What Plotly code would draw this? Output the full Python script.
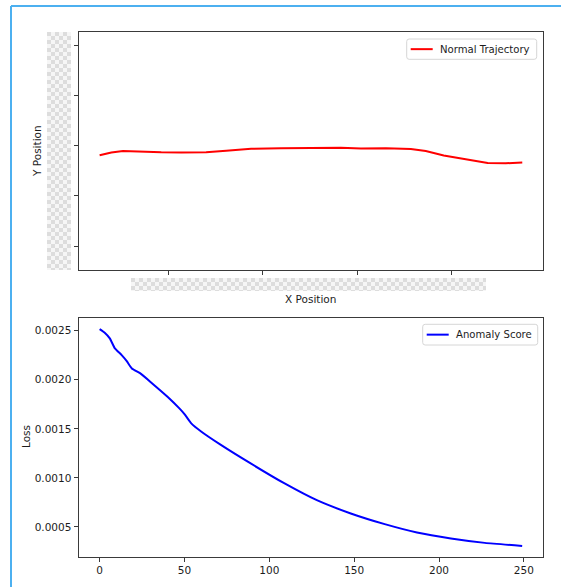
import base64
import plotly.graph_objects as go

W, H = 561, 587

# Trajectory (top panel)
traj_x = [1.274, 1.398, 1.521, 1.715, 1.926, 2.137, 2.401, 2.613, 2.877, 3.194,
          3.510, 3.827, 4.039, 4.303, 4.567, 4.725, 4.915, 5.148, 5.380, 5.570, 5.746]
traj_y = [-0.191, -0.135, -0.105, -0.121, -0.131, -0.135, -0.131, -0.101, -0.062, -0.052,
          -0.046, -0.042, -0.056, -0.050, -0.066, -0.105, -0.195, -0.275, -0.344, -0.350, -0.334]
traj_xticks = [2, 3, 4, 5]
traj_yticks = [-2, -1, 0, 1, 2]

# Anomaly score per step (bottom panel)
score_step = [0, 3, 6, 9, 13, 16, 19, 24, 31, 40, 47, 50, 54, 60, 71, 89,
              109, 128, 148, 168, 187, 207, 227, 249]
score_loss = [0.002517, 0.00248, 0.002422, 0.00232, 0.002252, 0.00219, 0.002116, 0.002065,
              0.001963, 0.001827, 0.001708, 0.00165, 0.001555, 0.00147, 0.001341, 0.001147,
              0.000943, 0.000772, 0.000637, 0.000528, 0.000443, 0.000382, 0.000337, 0.000306]
loss_ticks = [0.0005, 0.0010, 0.0015, 0.0020, 0.0025]
step_ticks = [0, 50, 100, 150, 200, 250]

series_names = ["Normal Trajectory", "Anomaly Score"]
series_colors = ["#ff0000", "#0000ff"]


def px_x(p):
    return p / W


def px_y(p):
    return 1 - p / H


FONT = "DejaVu Sans, sans-serif"
FS = 10.5
LEG_FS = 10.1
SPINE = "#3a3a3a"
TXT = "#1c1c1c"

fig = go.Figure()
fig.add_trace(go.Scatter(x=traj_x, y=traj_y, mode="lines", name=series_names[0],
                         line=dict(color=series_colors[0], width=2), xaxis="x", yaxis="y"))
fig.add_trace(go.Scatter(x=score_step, y=score_loss, mode="lines", name=series_names[1],
                         line=dict(color=series_colors[1], width=2, shape="spline", smoothing=0.5),
                         xaxis="x2", yaxis="y2"))

axis_common = dict(showgrid=False, zeroline=False, showline=True, linecolor=SPINE,
                   linewidth=1, mirror=True, ticks="outside", ticklen=4, tickwidth=1,
                   tickcolor=SPINE, tickfont=dict(family=FONT, size=FS, color=TXT))

xdom = [px_x(78.5), px_x(543.3)]

fig.update_layout(
    width=W, height=H,
    margin=dict(l=0, r=0, t=0, b=0),
    paper_bgcolor="white", plot_bgcolor="white",
    font=dict(family=FONT, size=FS, color=TXT),
    showlegend=False,
    xaxis=dict(axis_common, domain=xdom, anchor="y", range=[1.0505, 5.9685],
               tickvals=traj_xticks, showticklabels=False),
    yaxis=dict(axis_common, domain=[px_y(270), px_y(32.3)], anchor="x",
               range=[-2.474, 2.257], tickvals=traj_yticks, showticklabels=False),
    xaxis2=dict(axis_common, domain=xdom, anchor="y2", range=[-12.45, 261.45],
                tickvals=step_ticks),
    yaxis2=dict(axis_common, domain=[px_y(556.7), px_y(318.2)], anchor="x2",
                range=[0.000196, 0.002628], tickvals=loss_ticks, tickformat=".4f"),
)

# Axis titles
for text, x, y, ang in [("Y Position", 37, 151, -90), ("X Position", 310.8, 299, 0),
                        ("Loss", 26, 437, -90)]:
    fig.add_annotation(text=text, x=px_x(x), y=px_y(y), xref="paper", yref="paper",
                       xanchor="center", yanchor="middle", textangle=ang, showarrow=False,
                       font=dict(family=FONT, size=FS, color=TXT))


def rounded_box(x0, y0, x1, y1, r=2.5):
    """Rounded rectangle path in paper coordinates from pixel corners."""
    X = lambda p: px_x(p)
    Y = lambda p: px_y(p)
    return (f"M{X(x0 + r)},{Y(y0)} L{X(x1 - r)},{Y(y0)} Q{X(x1)},{Y(y0)} {X(x1)},{Y(y0 + r)} "
            f"L{X(x1)},{Y(y1 - r)} Q{X(x1)},{Y(y1)} {X(x1 - r)},{Y(y1)} "
            f"L{X(x0 + r)},{Y(y1)} Q{X(x0)},{Y(y1)} {X(x0)},{Y(y1 - r)} "
            f"L{X(x0)},{Y(y0 + r)} Q{X(x0)},{Y(y0)} {X(x0 + r)},{Y(y0)} Z")


# Legend boxes (one per panel)
legend_boxes = [(406.7, 39, 536.7, 59.3), (422.7, 324.3, 537.7, 345)]
for (x0, y0, x1, y1), name, color in zip(legend_boxes, series_names, series_colors):
    fig.add_shape(type="path", path=rounded_box(x0, y0, x1, y1), xref="paper", yref="paper",
                  fillcolor="white", line=dict(color="#d6d6d6", width=1), layer="above")
    ym = (y0 + y1) / 2
    fig.add_shape(type="line", xref="paper", yref="paper", x0=px_x(x0 + 4), x1=px_x(x0 + 26),
                  y0=px_y(ym), y1=px_y(ym), line=dict(color=color, width=2), layer="above")
    fig.add_annotation(text=name, x=px_x(x0 + 31.5), y=px_y(ym), xref="paper", yref="paper",
                       xanchor="left", yanchor="middle", showarrow=False,
                       font=dict(family=FONT, size=LEG_FS, color=TXT))


def checker(w, h):
    svg = (f'<svg xmlns="http://www.w3.org/2000/svg" width="{w}" height="{h}">'
           '<defs><pattern id="c" width="8" height="8" patternUnits="userSpaceOnUse">'
           '<rect width="8" height="8" fill="#f6f6f6"/>'
           '<rect width="4" height="4" fill="#dddddd"/>'
           '<rect x="4" y="4" width="4" height="4" fill="#dddddd"/>'
           '</pattern></defs><rect width="100%" height="100%" fill="url(#c)"/></svg>')
    return "data:image/svg+xml;base64," + base64.b64encode(svg.encode()).decode()


# Masked tick-label areas
for (x0, y0, x1, y1) in [(47, 32, 71, 270), (131, 278, 486, 291)]:
    fig.add_layout_image(source=checker(x1 - x0, y1 - y0), xref="paper", yref="paper",
                         x=px_x(x0), y=px_y(y0), sizex=(x1 - x0) / W, sizey=(y1 - y0) / H,
                         xanchor="left", yanchor="top", sizing="stretch", layer="above")

# Window frame
frame = "#4cb0f0"
fig.add_shape(type="line", xref="paper", yref="paper", x0=px_x(11), x1=1.0,
              y0=px_y(6), y1=px_y(6), line=dict(color=frame, width=2))
fig.add_shape(type="line", xref="paper", yref="paper", x0=px_x(11), x1=px_x(11),
              y0=px_y(6), y1=0, line=dict(color=frame, width=2))

fig.write_html("out.html")
